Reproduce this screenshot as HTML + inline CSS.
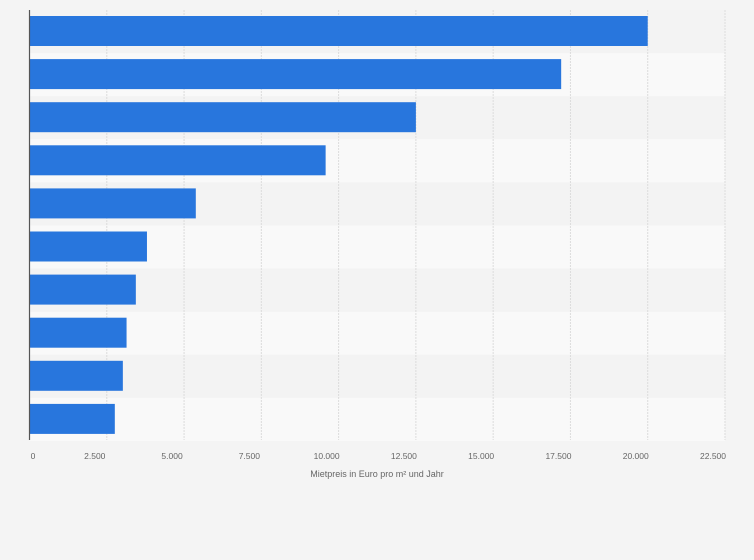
<!DOCTYPE html>
<html><head><meta charset="utf-8"><style>
body{margin:0;background:#f4f4f4;font-family:"Liberation Sans",sans-serif}
svg{display:block}
</style></head><body>
<svg id="chart" width="754" height="560" xmlns="http://www.w3.org/2000/svg">
<rect width="754" height="560" fill="#f4f4f4"/>
<g id="bands"></g><g id="grid"></g><g id="bars"></g><g id="ticks"></g>
<line x1="29.5" y1="10" x2="29.5" y2="440" stroke="#555" stroke-width="1.2"/>
<text x="377" y="477" font-size="9" fill="#666" text-anchor="middle">Mietpreis in Euro pro m² und Jahr</text>
</svg>
<script>
const values=[20000,17200,12500,9580,5380,3800,3440,3140,3020,2760];
const tickValues=[0,2500,5000,7500,10000,12500,15000,17500,20000,22500];
const tickLabels=["0","2.500","5.000","7.500","10.000","12.500","15.000","17.500","20.000","22.500"];
const NS="http://www.w3.org/2000/svg";
const x0=29.5,x1=725,maxV=22500,plotTop=10,rowH=43.1;
const xs=v=>x0+(x1-x0)*v/maxV;
function mk(t,a,p){const e=document.createElementNS(NS,t);for(const k in a)e.setAttribute(k,a[k]);p.appendChild(e);return e;}
const bandsG=document.getElementById('bands'),gridG=document.getElementById('grid'),barsG=document.getElementById('bars'),ticksG=document.getElementById('ticks');
values.forEach((v,i)=>{
 const b=mk('rect',{x:x0,y:plotTop+i*rowH,width:x1-x0,height:rowH,fill:i%2?'#f9f9f9':'#f3f3f3'},bandsG);
 
 
});
tickValues.forEach((t,i)=>{
 if(t>0){const g=mk('line',{x1:xs(t),x2:xs(t),y1:plotTop,y2:440,stroke:'#dcdcdc','stroke-width':1,'stroke-dasharray':'2,1'},gridG);
 
 }
 const tx=mk('text',{x:i===0?33:xs(t)-12,y:459,'font-size':8.5,fill:'#666','text-anchor':'middle'},ticksG);
 tx.textContent=tickLabels[i];
 
 
});
values.forEach((v,i)=>{
 const r=mk('rect',{x:x0,y:plotTop+i*rowH+6,width:xs(v)-x0,height:30,fill:'#2876dd'},barsG);
 
 
});
</script>
</body></html>
